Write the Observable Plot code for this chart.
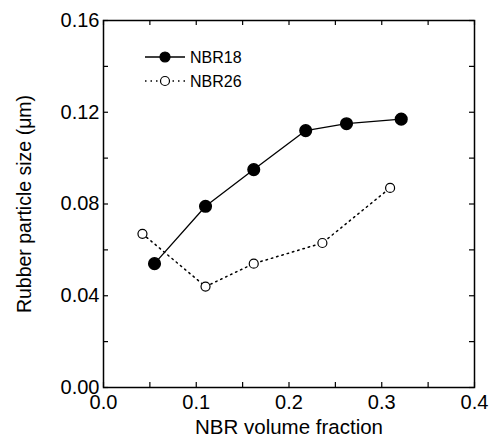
<!DOCTYPE html>
<html><head><meta charset="utf-8">
<script src="https://cdn.jsdelivr.net/npm/d3@7"></script>
<script src="https://cdn.jsdelivr.net/npm/@observablehq/plot@0.6"></script>
<style>body{margin:0;background:#fff} #chart{position:relative;width:489px;height:446px}</style>
</head><body><div id="chart"></div>
<script>
const nbr18X = [0.055, 0.110, 0.162, 0.218, 0.262, 0.321];
const nbr18Y = [0.054, 0.079, 0.095, 0.112, 0.115, 0.117];
const nbr26X = [0.042, 0.110, 0.162, 0.236, 0.309];
const nbr26Y = [0.067, 0.044, 0.054, 0.063, 0.087];
const seriesNames = ["NBR18", "NBR26"];
const xTicks = [0, 0.1, 0.2, 0.3, 0.4];
const xMinor = [0.05, 0.15, 0.25, 0.35];
const yTicks = [0, 0.04, 0.08, 0.12, 0.16];
const yMinor = [0.02, 0.06, 0.10, 0.14];
const xTitle = "NBR volume fraction";
const yTitle = "Rubber particle size (\u03bcm)";

const W = 489, H = 446, mL = 103, mR = 15, mT = 20, mB = 59;
const innerH = H - mT - mB, innerW = W - mL - mR;
const T = 5;
const allX = xTicks.concat(xMinor);
const allY = yTicks.concat(yMinor);
const s18 = nbr18X.map((x, i) => ({x, y: nbr18Y[i]}));
const s26 = nbr26X.map((x, i) => ({x, y: nbr26Y[i]}));

const plot = Plot.plot({
  width: W, height: H,
  marginLeft: mL, marginRight: mR, marginTop: mT, marginBottom: mB,
  style: {fontFamily: "'Liberation Sans', Arial, sans-serif", fontSize: "20px", background: "#fff", color: "#000"},
  x: {domain: [0, 0.4], ticks: xTicks, tickFormat: d3.format(".1f"), tickSize: 0, tickPadding: 7, label: null},
  y: {domain: [0, 0.16], ticks: yTicks, tickFormat: d3.format(".2f"), tickSize: 0, tickPadding: 4, label: null},
  marks: [
    Plot.ruleX(allX, {x: d => d, insetTop: innerH - T, stroke: "#000", strokeWidth: 1.2}),
    Plot.ruleX(allX, {x: d => d, insetBottom: innerH - T, stroke: "#000", strokeWidth: 1.2}),
    Plot.ruleY(allY, {y: d => d, insetRight: innerW - T, stroke: "#000", strokeWidth: 1.2}),
    Plot.ruleY(allY, {y: d => d, insetLeft: innerW - T, stroke: "#000", strokeWidth: 1.2}),
    Plot.frame({stroke: "#000", strokeWidth: 1.5}),
    Plot.line(s26, {x: "x", y: "y", stroke: "#000", strokeWidth: 1.5, strokeDasharray: "1.5,4"}),
    Plot.line(s18, {x: "x", y: "y", stroke: "#000", strokeWidth: 1.3}),
    Plot.dot(s26, {x: "x", y: "y", r: 4.5, fill: "#fff", stroke: "#000", strokeWidth: 1.2}),
    Plot.dot(s18, {x: "x", y: "y", r: 5.8, fill: "#000", stroke: "#000"}),
    Plot.text([xTitle], {text: d => d, frameAnchor: "bottom", dy: 46, fontSize: 20.5, textAnchor: "middle"}),
    Plot.text([yTitle], {text: d => d, frameAnchor: "left", dx: -79, rotate: -90, fontSize: 19.5, textAnchor: "middle"})
  ]
});
document.getElementById("chart").appendChild(plot);

// legend
const svg = d3.select(plot);
const lg = svg.append("g").attr("font-size", 16).attr("text-anchor", "start");
const rows = [
  {name: seriesNames[0], y: 57, dash: null, fill: "#000", r: 5},
  {name: seriesNames[1], y: 81, dash: "1.5,4", fill: "#fff", r: 4.5}
];
rows.forEach(r => {
  lg.append("line").attr("x1", 145).attr("x2", 185).attr("y1", r.y).attr("y2", r.y)
    .attr("stroke", "#000").attr("stroke-width", r.dash ? 1.5 : 1.3).attr("stroke-dasharray", r.dash);
  lg.append("circle").attr("cx", 165).attr("cy", r.y).attr("r", r.r)
    .attr("fill", r.fill).attr("stroke", "#000").attr("stroke-width", 1.2);
  lg.append("text").attr("x", 190).attr("y", r.y).attr("dy", "0.35em").attr("fill", "#000").text(r.name);
});
</script>
</body></html>
